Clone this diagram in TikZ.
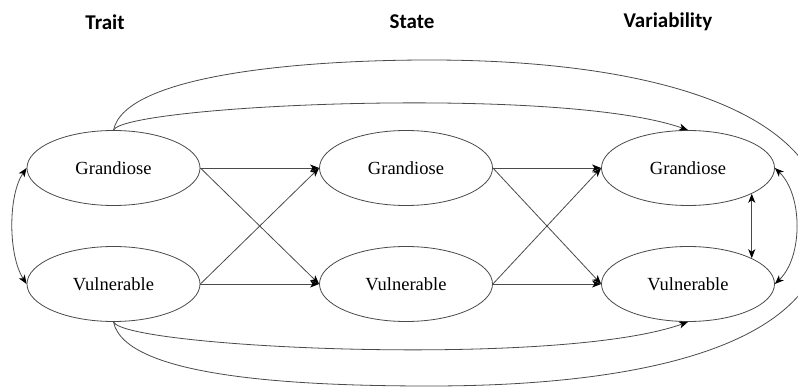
\documentclass[tikz,border=0pt]{standalone}
\usepackage{fontspec}
\setmainfont{Liberation Serif}
\newfontfamily\titlefont{Carlito}
\usetikzlibrary{arrows.meta,shapes.geometric}
\definecolor{linegray}{HTML}{4A4A4A}
\begin{document}
\begin{tikzpicture}[x=1pt,y=-1pt,
  latent/.style={ellipse,draw=linegray,line width=0.8pt,minimum width=173pt,minimum height=75pt,inner sep=0pt,font=\fontsize{18.5}{20}\selectfont},
  heading/.style={font=\titlefont\bfseries\fontsize{21}{24}\selectfont,inner sep=0pt},
  conn/.style={draw=linegray,line width=0.8pt},
  tip/.tip={Stealth[length=9pt,width=7pt,inset=2.5pt,color=black]},
  path1/.style={conn,-tip},
  path2/.style={conn,tip-tip}]
\useasboundingbox (0,0) rectangle (798,390);
\clip (0,0) rectangle (798,390);
\node[heading] (h1) at (105,22) {Trait};
\node[heading] (h2) at (412,22) {State};
\node[heading] (h3) at (668,22) {Variability};
\node[latent] (TG) at (113.5,168) {Grandiose};
\node[latent] (TV) at (113.5,284) {Vulnerable};
\node[latent] (SG) at (406,168) {Grandiose};
\node[latent] (SV) at (406,284) {Vulnerable};
\node[latent] (VG) at (688,168) {Grandiose};
\node[latent] (VV) at (688,284) {Vulnerable};
% straight paths
\draw[path1] (TG.east) -- (SG.west);
\draw[path1] (TG.east) -- (SV.west);
\draw[path1] (TV.east) -- (SG.west);
\draw[path1] (TV.east) -- (SV.west);
\draw[path1] (SG.east) -- (VG.west);
\draw[path1] (SG.east) -- (VV.west);
\draw[path1] (SV.east) -- (VG.west);
\draw[path1] (SV.east) -- (VV.west);
% correlations
\draw[path2] (TG.west) .. controls (8,195) and (8,255) .. (TV.west);
\draw[path2] (VG.east) .. controls (803,195) and (803,257) .. (VV.east);
\draw[path2] (VG.-22.5) -- (VV.22.5);
% trait to variability
\draw[path1] (TG.north) .. controls (125,105) and (560,85) .. (VG.north);
\draw[path1] (TV.south) .. controls (125,348) and (560,368) .. (VV.south);
% outer curve
\draw[conn] (TG.north) .. controls (125,75) and (300,60) .. (430,60)
  .. controls (650,60) and (825,110) .. (825,226)
  .. controls (825,343) and (650,386) .. (430,386)
  .. controls (300,386) and (125,378) .. (TV.south);
\end{tikzpicture}
\end{document}
